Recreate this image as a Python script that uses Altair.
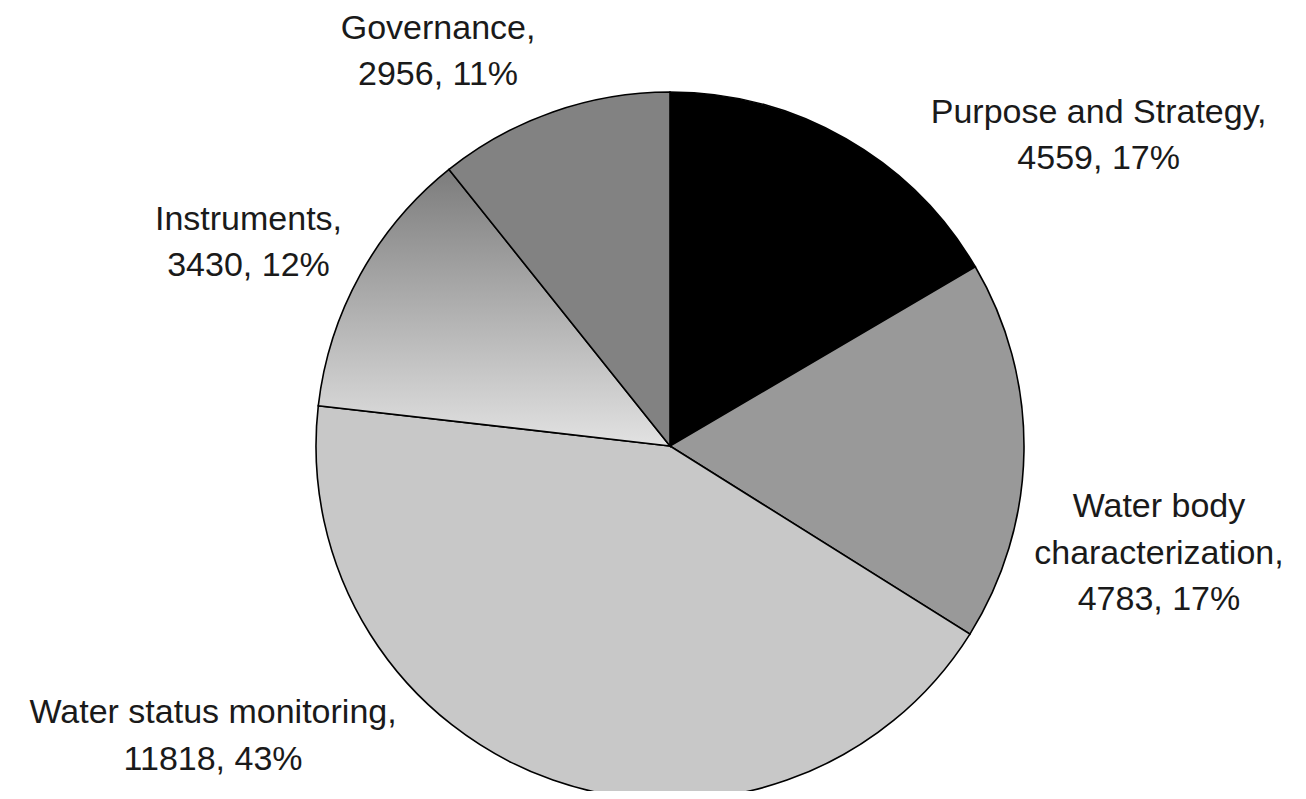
import math
import altair as alt
import pandas as pd

categories = ["Purpose and Strategy", "Water body characterization", "Water status monitoring",
              "Instruments", "Governance"]
label_names = ["Purpose and Strategy,", "Water body\ncharacterization,", "Water status monitoring,",
               "Instruments,", "Governance,"]
values = [4559, 4783, 11818, 3430, 2956]
fills = ["#000000", "#999999", "#c8c8c8", "#b0b0b0", "#828282"]

total = sum(values)
labels = [f"{n}\n{v}, {round(v / total * 100)}%" for n, v in zip(label_names, values)]
df = pd.DataFrame({"idx": list(range(len(categories))), "cat": categories,
                   "value": values, "label": labels})

CX, CY, R = 662, 438, 354
theta_scale = alt.Scale(domain=[0, 1], range=[0, 2 * math.pi])

base = (
    alt.Chart(df)
    .transform_joinaggregate(total="sum(value)")
    .transform_window(cum="sum(value)", sort=[alt.SortField("idx", order="ascending")], frame=[None, 0])
    .transform_calculate(
        start="(datum.cum - datum.value) / datum.total",
        end="datum.cum / datum.total",
        mid="(datum.cum - datum.value / 2) / datum.total",
    )
)

gradient = {
    "gradient": "linear", "x1": 0, "y1": 0, "x2": 0, "y2": 1,
    "stops": [{"offset": 0, "color": "#7c7c7c"}, {"offset": 1, "color": "#e2e2e2"}],
}

arcs = base.mark_arc(outerRadius=R, stroke="#000000", strokeWidth=1.6).encode(
    theta=alt.Theta("start:Q", scale=theta_scale, stack=False),
    theta2="end:Q",
    x=alt.value(CX),
    y=alt.value(CY),
    fill=alt.condition(
        "datum.cat === 'Instruments'",
        alt.value(gradient),
        alt.Fill("cat:N", scale=alt.Scale(domain=categories, range=fills), legend=None),
    ),
)

# label offsets (dx, dy) from the point at radius 420 on each slice's mid angle
offsets = {
    "Purpose and Strategy": (220, 41),
    "Water body characterization": (69, 65),
    "Water status monitoring": (-318, -119),
    "Instruments": (-54, -13),
    "Governance": (-93, -11),
}

texts = []
for cat in categories:
    dx, dy = offsets[cat]
    texts.append(
        base.transform_filter(alt.datum.cat == cat)
        .mark_text(font="Liberation Sans", fontSize=34, lineHeight=46.5, align="center",
                   baseline="alphabetic", color="#1a1a1a", lineBreak="\n", dx=dx, dy=dy)
        .encode(
            theta=alt.Theta("mid:Q", scale=theta_scale, stack=False),
            radius=alt.value(420),
            x=alt.value(CX),
            y=alt.value(CY),
            text="label:N",
        )
    )

chart = (
    alt.layer(arcs, *texts)
    .properties(width=1290, height=783, padding=0, autosize="none", background="white")
    .configure_view(stroke=None)
)

chart.save("out.html", embed_options={"renderer": "svg", "actions": False})
